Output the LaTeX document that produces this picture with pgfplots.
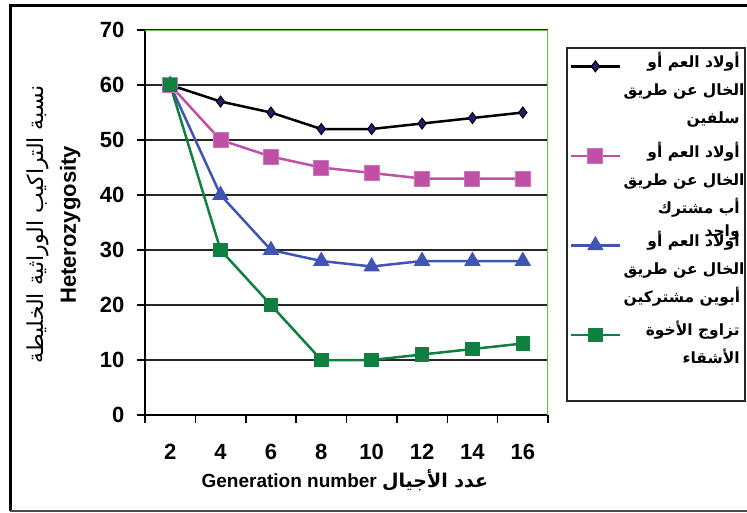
\documentclass[border=0pt]{standalone}
\usepackage{pgfplots}
\pgfplotsset{compat=1.18}
\usepackage{fontspec}
\setmainfont{Liberation Sans}
\newfontfamily\arabicfont[Script=Arabic]{DejaVu Sans}
\TeXXeTstate=1
\definecolor{plotgreen}{RGB}{112,190,68}
\definecolor{navy}{RGB}{30,30,110}
\definecolor{spink}{RGB}{192,80,165}
\definecolor{sblue}{RGB}{64,84,180}
\definecolor{sgreen}{RGB}{16,128,64}
\newcommand\LE[1]{\parbox[b][80pt][t]{116pt}{\raggedleft\arabicfont #1}}
\newcommand\LL[1]{\mbox{\resizebox{!}{!}{\beginR #1\endR}}}
\begin{document}
\begin{tikzpicture}
\useasboundingbox (0pt,0pt) rectangle (747pt,-512pt);
\draw[line width=3pt] (10pt,-511pt) -- (10pt,-5pt) -- (747pt,-5pt);
\draw[line width=1.5pt,black!70] (10pt,-511pt) -- (747pt,-511pt);
\draw[line width=2pt,black!85] (567pt,-48pt) rectangle (745pt,-401pt);
\begin{axis}[
  at={(145pt,-415pt)}, anchor=south west, scale only axis,
  width=403pt, height=385pt,
  xmin=1, xmax=17, ymin=0, ymax=70,
  axis x line*=bottom, axis y line*=left,
  axis line style={line width=2pt, black},
  xtick={2,4,...,16},
  minor xtick={1,3,...,17},
  major x tick style={draw=none},
  ytick={0,10,...,70},
  tick align=outside,
  major tick length=8pt, minor tick length=8pt,
  every tick/.style={line width=1.5pt, black},
  ymajorgrids, major grid style={line width=1.8pt, black!85},
  /pgf/number format/assume math mode=true,
  ticklabel style={font=\bfseries\fontsize{22}{26}\selectfont},
  xticklabel style={yshift=-18pt},
  yticklabel style={xshift=-9pt},
  xlabel={\bfseries Generation number {\arabicfont\beginR عدد الأجيال\endR}},
  xlabel style={at={(axis description cs:0.496,-0.169)}, anchor=center, font=\fontsize{19}{22}\selectfont},
  ylabel={{\fontsize{22}{24}\selectfont\arabicfont\beginR نسبة التراكيب الوراثية الخليطة\endR}\\\bfseries\fontsize{22}{24}\selectfont Heterozygosity},
  ylabel style={at={(axis description cs:-0.226,0.494)}, anchor=center, rotate=0, align=center, font=\fontsize{21}{32}\selectfont},
  legend style={at={(axis description cs:1.047,0.953)}, anchor=north west,
    draw=none, fill=none, font=\bfseries\fontsize{15.5}{28}\selectfont,
    cells={anchor=base west, inner sep=3pt},
    row sep=4pt},
  legend image code/.code={\draw[mark repeat=2,mark phase=2,#1] plot coordinates {(0pt,66pt) (24pt,66pt) (49pt,66pt)};},
]
\draw[plotgreen, line width=2.5pt] (rel axis cs:0,1) -- (rel axis cs:1,1) -- (rel axis cs:1,0);
\addplot[line width=2.5pt, black, mark=diamond*, mark size=5.5pt, mark options={fill=navy, draw=black, line width=1pt}]
  coordinates {(2,60) (4,57) (6,55) (8,52) (10,52) (12,53) (14,54) (16,55)};
\addlegendentry{\LE{\mbox{\beginR أولاد العم أو\endR}\\\mbox{\beginR الخال عن طريق\endR}\\\mbox{\beginR سلفين\endR}}}
\addplot[line width=2.5pt, spink, mark=square*, mark size=7.5pt, mark options={fill=spink, draw=spink!80!white, line width=1pt}]
  coordinates {(2,60) (4,50) (6,47) (8,45) (10,44) (12,43) (14,43) (16,43)};
\addlegendentry{\LE{\mbox{\beginR أولاد العم أو\endR}\\\mbox{\beginR الخال عن طريق\endR}\\\mbox{\beginR أب مشترك\endR}\\[-5pt]\mbox{\beginR واحد\endR}}}
\addplot[line width=2.5pt, sblue, mark=triangle*, mark size=7pt, mark options={fill=sblue, draw=sblue}]
  coordinates {(2,60) (4,40) (6,30) (8,28) (10,27) (12,28) (14,28) (16,28)};
\addlegendentry{\LE{\mbox{\beginR أولاد العم أو\endR}\\\mbox{\beginR الخال عن طريق\endR}\\\mbox{\beginR أبوين مشتركين\endR}}}
\addplot[line width=2.5pt, sgreen, mark=square*, mark size=6pt, mark options={fill=sgreen, draw=sgreen}]
  coordinates {(2,60) (4,30) (6,20) (8,10) (10,10) (12,11) (14,12) (16,13)};
\addlegendentry{\LE{\mbox{\beginR تزاوج الأخوة\endR}\\\mbox{\beginR الأشقاء\endR}}}
\end{axis}
\end{tikzpicture}
\end{document}
